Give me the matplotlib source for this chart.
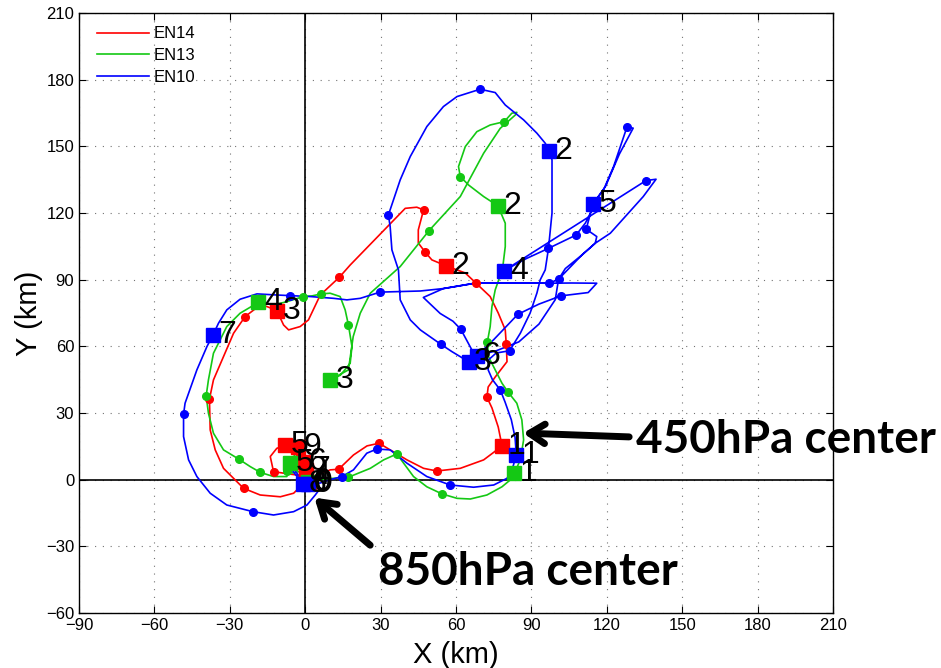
import numpy as np
import matplotlib.pyplot as plt

plt.rcParams['font.family'] = ['Liberation Sans', 'DejaVu Sans']

# ---- EN14 (red) ----
en14_x = [1, 5, 9.9, 13.3, 19.2, 24.6, 29.4, 33.8, 40.5, 47.1, 52.4, 61.7, 71, 76.3, 78.3,
          76.8, 74.3, 72.3, 72.8, 75.6, 80.3, 80, 79.6, 76.8, 73.6, 68, 63.7, 56.1,
          50.4, 47.8, 45, 45, 46.4, 47.1, 44.4, 39.8, 17.9, 13.6, 6, 1.3, -2, -6.6, -8.6, -11.3,
          -15.2, -17.9, -23.9, -28.5, -32.5, -36.5, -38.1, -37.8, -35.8, -32.5, -24.5, -17.9, -9.9, -4.6, -2, 0.5,
          -6, -12.6, -13.9, -11.3, -8, -3, -1, -2, 0]
en14_y = [0, 2, 4.4, 4.7, 11.1, 15.2, 16.4, 13.4, 8.9, 5.1, 3.9, 5.1, 8.9, 13.4, 15.3,
          23.7, 32.3, 37.1, 41.7, 46.2, 53.1, 60.9, 67.4, 75, 82.4, 88.4, 93, 96.2,
          98.9, 102.3, 106.5, 112.4, 118.4, 121.4, 122.6, 122.1, 96.6, 91.1, 83.1, 71.9, 68.9, 67.4, 69.6, 76.1,
          77.9, 78.6, 73.4, 65.9, 55.4, 44.9, 36.2, 22.4, 13.4, 5.1, -3.9, -6.9, -7.7, -6.1, -3.2, 1.5,
          2.5, 3.6, 10.4, 14.1, 15.5, 14.5, 9, 5, 3]
en14_dot_x = [13.3, 29.4, 52.4, 72.3, 80, 68, 47.8, 47.1, 13.6, -23.9, -38.1, -24.5, -12.6]
en14_dot_y = [4.7, 16.4, 3.9, 37.1, 60.9, 88.4, 102.3, 121.4, 91.1, 73.4, 36.2, -3.9, 3.6]
en14_sq_x = [1.5, 78.3, 56.1, -11.3, 0.5, -8, -3, -1, 0.5]
en14_sq_y = [-1.5, 15.3, 96.2, 76.1, 1.5, 15.5, 14.5, 8, 4.5]
en14_sq_lab = ['0', '1', '2', '3', '4', '5', '9', '6', '7']

# ---- EN13 (green) ----
en13_x = [1, 5, 10, 17.2, 25.9, 31.2, 36.5, 38.2, 43.1, 48.4, 54.4, 60.4, 65.7, 72.3, 78.3, 81.6, 83.2,
          85.6, 86.9, 86.2, 84.2, 80.6, 78.3, 75.6, 72.9, 72.5, 73.6, 74.3, 75.6, 77, 78.5, 79.6, 79.6, 76.7,
          71, 65, 61.7, 61, 63.7, 68.3, 73.6, 79.2, 82.2, 84.2, 83.6, 77.6, 71, 61.7, 49.3, 37.8, 25.9,
          21.9, 19.1, 17.2, 9.9, 14, 17.9, 18.6, 17.2, 15.9, 13.9, 9.9, 6.4, 2.7, -0.7, -7.3, -12.6, -18.6,
          -25.9, -31.2, -36.5, -38.5, -39.4, -38.5, -36.5, -32.5, -26.5, -21.9, -17.9, -12.6, -7.3,
          -6, -2.7, -4, -7.3, -5, -1, 1]
en13_y = [-1, 0, 0.5, 1.1, 5.1, 8.9, 11.6, 8.9, 1.4, -3.2, -6.4, -8.4, -8.7, -6.9, -3.2, -0.1, 2.9,
          8.9, 17.9, 26.9, 34.4, 39.6, 43.4, 49.4, 55.4, 62.1, 68.9, 77.9, 85.4, 89.9, 94.7, 104.9, 115.4, 123.2,
          127.4, 132.6, 136.4, 140.9, 149.9, 156.6, 159.6, 161.1, 164.9, 165.3, 164.1, 158.1, 146.9, 127.4, 112.1, 95.9, 83.9,
          74.9, 64.4, 49.4, 44.9, 47, 52.4, 59.9, 69.6, 76.4, 82.4, 83.9, 83.6, 82.7, 82.4, 80.1, 78.6, 79.8,
          74.9, 68.9, 56.9, 44.9, 37.7, 29.9, 20.9, 13.4, 9.3, 5.9, 3.3, 1.4, 1.4,
          7.4, 14.1, 8, 4, 3, 4, 2]
en13_dot_x = [17.2, 36.5, 54.4, 80.6, 72.5, 78.5, 61.7, 79.2, 49.3, 17.2, 6.4, -0.7, -39.4, -26.5, -17.9, -7.3, -2.7]
en13_dot_y = [1.1, 11.6, -6.4, 39.6, 62.1, 94.7, 136.4, 161.1, 112.1, 69.6, 83.6, 82.4, 37.7, 9.3, 3.3, 4, 14.1]
en13_sq_x = [1, 83.2, 76.7, 9.9, -18.6, -6]
en13_sq_y = [-1, 2.9, 123.2, 44.9, 79.8, 7.4]
en13_sq_lab = ['0', '1', '2', '3', '4', '5']

# ---- EN10 (blue) ----
en10_x = [1, 6, 10, 14.6, 19.2, 24.5, 28.5, 33.8, 40.5, 48.4, 57.7, 67, 75, 80.3, 82.3, 84,
          83.5, 82, 79.5, 77.6, 74.5, 72.8, 73, 76, 81.3, 85.6, 89.5, 92.2, 93.5, 95.5, 96.8, 98.2, 98.2, 98.2, 97.1,
          95.5, 92.2, 86.9, 79.6, 75.6, 69.6, 60.4, 55, 48.4, 41.8, 37.8, 33.1, 33.8, 34.5, 37.1, 37.8, 41.8, 45.8,
          54, 58.4, 65,
          66.5, 61.9, 58.8, 53.7, 47, 55, 68, 85, 97.1, 100.8, 110, 115.4, 121.4, 134.5, 139.6, 135.6, 79.2,
          88, 96.8, 103, 107.8, 111.5, 113.5, 114.5,
          118.7, 122.7, 128, 130.5, 125, 119.5, 114.5, 111.8, 116, 115.4, 110, 103.5, 100.8, 99.5, 93, 85, 76, 68.3,
          75, 84.6, 93, 101.7, 112.6, 116, 106, 97.1, 85, 68, 55, 45.8, 29.8, 21.9, 16.6, 11.3, 2, -6,
          -11.3, -19.2, -25.9, -31.2, -34.5, -36.7,
          -39.1, -43.1, -47.8, -48.4, -48.4, -46.4, -43.1, -37.8, -31.2, -20.8, -12.6, -4.6, 0.7, 4, 6, 3, -1,
          -5, -6.6, -4, -1.5]
en10_y = [-2, -1.5, 0, 1.4, 4.4, 11.9, 13.8, 13.4, 7.4, 1.4, -2.4, -3.4, -2.4, 0.6, 4.4, 11.1,
          19, 27, 35, 40.4, 45, 49.4, 54, 57, 58, 65.9, 75, 84, 89.9, 94.4, 104.1, 120, 135, 143.9, 148.1,
          151.4, 155.9, 161.9, 168.6, 174.2, 175.7, 172.4, 167.9, 158.9, 145.4, 134.9, 119.1, 113.9, 103.4, 94.4, 80.9, 71.9, 67.4,
          60.9, 57.6, 53.1,
          58, 67.7, 71.3, 74.8, 82, 86, 88.5, 88.5, 88.4, 90.2, 101, 106.4, 110.9, 127.4, 135.2, 134.6, 94.1,
          99.5, 104.1, 107.5, 110.1, 115.5, 120, 124.1,
          130.4, 140.9, 158.6, 158.2, 146.5, 132, 124.1, 112.7, 109.4, 106.4, 101, 95, 90.2, 81, 70, 62, 58, 55.7,
          63, 74.4, 79, 82.7, 84.2, 88.4, 88.5, 88.4, 88.5, 88.5, 86, 84.9, 84.4, 81.6, 80.9, 81.6, 82.4, 82.8,
          83.1, 83.6, 81.2, 76.4, 70.4, 65.1,
          59.9, 49.4, 34.4, 29.4, 19.4, 8.9, 1.4, -6.1, -11.4, -14.4, -15.9, -14.4, -11.4, -6.9, -3.9, -1, -2,
          4, 8.9, 4, 0]
en10_dot_x = [14.6, 28.5, 57.7, 77.6, 81.3, 96.8, 69.6, 33.1, 54, 61.9, 135.6, 111.8, 128, 107.8,
              100.8, 84.6, 101.7, 97.1, 29.8, -6, -48.4, -20.8, -6.6]
en10_dot_y = [1.4, 13.8, -2.4, 40.4, 58, 104.1, 175.7, 119.1, 60.9, 67.7, 134.6, 112.7, 158.6, 110.1,
              90.2, 74.4, 82.7, 88.4, 84.4, 82.8, 29.4, -14.4, 8.9]
en10_sq_x = [1, 84, 97.1, 65, 79.2, 114.5, 68.3, -36.7, -1]
en10_sq_y = [-2, 11.1, 148.1, 53.1, 94.1, 124.1, 55.7, 65.1, -2]
en10_sq_lab = ['0', '1', '2', '3', '4', '5', '6', '7', '8']

tracks = [
    ('EN14', '#ff0000', en14_x, en14_y, en14_dot_x, en14_dot_y, en14_sq_x, en14_sq_y, en14_sq_lab),
    ('EN13', '#14c814', en13_x, en13_y, en13_dot_x, en13_dot_y, en13_sq_x, en13_sq_y, en13_sq_lab),
    ('EN10', '#0000ff', en10_x, en10_y, en10_dot_x, en10_dot_y, en10_sq_x, en10_sq_y, en10_sq_lab),
]

fig = plt.figure(figsize=(9.41, 6.68), dpi=100)
ax = fig.add_axes([79 / 941, 55 / 668, 754 / 941, 600 / 668])

ax.axhline(0, color='k', lw=1.2, zorder=1)
ax.axvline(0, color='k', lw=1.2, zorder=1)

for name, col, px, py, dx, dy, sx, sy, lab in tracks:
    ax.plot(px, py, '-', color=col, lw=1.2, label=name, zorder=2)
    ax.plot(dx, dy, 'o', color=col, ms=5.5, zorder=3)
    ax.plot(sx, sy, 's', color=col, ms=10, zorder=4)

for name, col, px, py, dx, dy, sx, sy, lab in tracks:
    for x, y, t in zip(sx, sy, lab):
        ax.annotate(t, (x, y), xytext=(4, 0), textcoords='offset points',
                    fontsize=23, va='center', ha='left', zorder=5)

ax.set_xlim(-90, 210)
ax.set_ylim(-60, 210)
ax.set_xticks(np.arange(-90, 211, 30))
ax.set_yticks(np.arange(-60, 211, 30))
ax.tick_params(direction='in', top=True, right=True, labelsize=12, length=5)
ax.grid(True, color='0.45', linestyle=(0, (1, 6)), lw=0.8)
ax.set_axisbelow(True)
for s in ax.spines.values():
    s.set_linewidth(1.0)
ax.set_xlabel('X (km)', fontsize=21, labelpad=6)
ax.set_ylabel('Y (km)', fontsize=21, labelpad=2)

ax.legend(loc='upper left', frameon=False, fontsize=12, handlelength=3.1,
          handletextpad=0.3, labelspacing=0.4, borderaxespad=0.3,
          bbox_to_anchor=(0.009, 0.997))

# annotations
arrow_style = dict(arrowstyle='->,head_length=1.1,head_width=0.7', lw=5, color='k')
ax.annotate('', xy=(85.6, 21), xytext=(130, 19.2), arrowprops=arrow_style,
            annotation_clip=False)
ax.text(131.7, 17.9, '450hPa center', fontsize=33, fontweight='bold', family='Lato',
        va='center', ha='left', clip_on=False)
ax.annotate('', xy=(2.8, -7.3), xytext=(26.7, -30.3), arrowprops=arrow_style,
            annotation_clip=False)
ax.text(29, -41.5, '850hPa center', fontsize=33, fontweight='bold', family='Lato',
        va='center', ha='left', clip_on=False)

fig.savefig('out.png', dpi=100)
